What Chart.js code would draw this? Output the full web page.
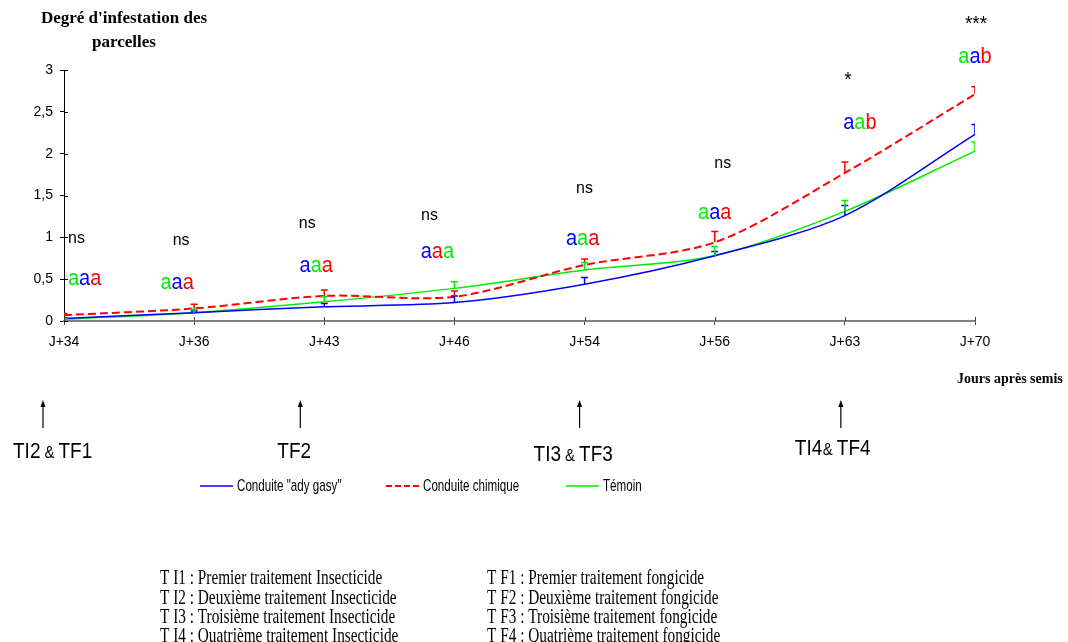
<!DOCTYPE html>
<html>
<head>
<meta charset="utf-8">
<script src="https://cdn.jsdelivr.net/npm/chart.js@4.4.0/dist/chart.umd.min.js"></script>
<style>
  html, body { margin: 0; padding: 0; background: #fff; }
  canvas { display: block; }
</style>
</head>
<body>
<canvas id="c" width="1068" height="642"></canvas>
<script>
// Sampling dates (days after sowing)
const categories = ['J+34', 'J+36', 'J+43', 'J+46', 'J+54', 'J+56', 'J+63', 'J+70'];

// Mean infestation degree per plot and upper error (standard error)
const adyGasy     = [0.03, 0.10, 0.17, 0.22, 0.44, 0.78, 1.26, 2.23];
const adyGasyErr  = [0.01, 0.02, 0.04, 0.08, 0.08, 0.05, 0.12, 0.12];
const chimique    = [0.07, 0.15, 0.30, 0.29, 0.67, 0.94, 1.77, 2.71];
const chimiqueErr = [0.02, 0.05, 0.07, 0.07, 0.07, 0.13, 0.13, 0.09];
const temoin      = [0.02, 0.10, 0.23, 0.39, 0.61, 0.78, 1.31, 2.03];
const temoinErr   = [0.01, 0.04, 0.06, 0.08, 0.09, 0.11, 0.13, 0.11];

// Y axis tick values
const yTicks = [0, 0.5, 1, 1.5, 2, 2.5, 3];

// Statistical significance and group letters per date
const significance = ['ns', 'ns', 'ns', 'ns', 'ns', 'ns', '*', '***'];
const groupLetters = ['aaa', 'aaa', 'aaa', 'aaa', 'aaa', 'aaa', 'aab', 'aab'];
// series owning each letter: g = témoin, b = ady gasy, r = chimique
const groupOwners  = ['gbr', 'gbr', 'bgr', 'brg', 'bgr', 'gbr', 'bgr', 'gbr'];

// Treatment application labels
const treatments = ['TI2 & TF1', 'TF2', 'TI3 & TF3', 'TI4& TF4'];

const legendLabels = ['Conduite "ady gasy"', 'Conduite chimique', 'Témoin'];

const notesInsecticide = [
  'T I1 : Premier traitement Insecticide',
  'T I2 : Deuxième traitement Insecticide',
  'T I3 : Troisième traitement Insecticide',
  'T I4 : Quatrième traitement Insecticide'
];
const notesFongicide = [
  'T F1 : Premier traitement fongicide',
  'T F2 : Deuxième traitement fongicide',
  'T F3 : Troisième traitement fongicide',
  'T F4 : Quatrième traitement fongicide'
];

const BLUE = '#0000ff', RED = '#ff0000', GREEN = '#00ee00';
const ownerColor = { g: GREEN, b: BLUE, r: RED };
const SANS = '"Liberation Sans", Arial, sans-serif';
const SERIF = '"Liberation Serif", "Times New Roman", serif';

function text(ctx, s, x, y, font, color, align, sx, sy) {
  ctx.save();
  ctx.font = font;
  ctx.fillStyle = color;
  ctx.textAlign = align || 'left';
  ctx.textBaseline = 'middle';
  ctx.translate(x, y);
  ctx.scale(sx || 1, sy || 1);
  ctx.fillText(s, 0, 0);
  ctx.restore();
}

function widthOf(ctx, s, font, sx) {
  ctx.save();
  ctx.font = font;
  const w = ctx.measureText(s).width * (sx || 1);
  ctx.restore();
  return w;
}

// Upper error bars with caps
const errorBars = {
  id: 'errorBars',
  afterDatasetsDraw(chart) {
    const { ctx, chartArea } = chart;
    const xs = chart.scales.x, ys = chart.scales.y;
    ctx.save();
    ctx.beginPath();
    ctx.rect(chartArea.left, chartArea.top - 40, chartArea.width, chartArea.height + 40);
    ctx.clip();
    chart.data.datasets.forEach(ds => {
      ctx.strokeStyle = ds.borderColor;
      ctx.lineWidth = 1.5;
      ctx.setLineDash([]);
      ds.data.forEach((v, i) => {
        const x = xs.getPixelForValue(i);
        const y0 = ys.getPixelForValue(v);
        const y1 = ys.getPixelForValue(v + ds.errors[i]);
        ctx.beginPath();
        ctx.moveTo(x, y0); ctx.lineTo(x, y1);
        ctx.moveTo(x - 3.5, y1); ctx.lineTo(x + 3.5, y1);
        ctx.stroke();
      });
    });
    ctx.restore();
  }
};

// Inner halves of the axis tick marks
const innerTicks = {
  id: 'innerTicks',
  afterDraw(chart) {
    const { ctx, chartArea } = chart;
    const xs = chart.scales.x, ys = chart.scales.y;
    ctx.save();
    ctx.lineWidth = 1;
    ctx.strokeStyle = '#000';
    ys.ticks.forEach(t => {
      const y = Math.round(ys.getPixelForValue(t.value)) + 0.5;
      ctx.beginPath(); ctx.moveTo(chartArea.left, y); ctx.lineTo(chartArea.left + 4, y); ctx.stroke();
    });
    ctx.strokeStyle = '#444';
    categories.forEach((c, i) => {
      const x = Math.round(xs.getPixelForValue(i)) + 0.5;
      ctx.beginPath(); ctx.moveTo(x, chartArea.bottom); ctx.lineTo(x, chartArea.bottom - 4); ctx.stroke();
    });
    ctx.restore();
  }
};

// Significance marks, group letters, titles, treatment arrows, legend and notes
const annotations = {
  id: 'annotations',
  afterDraw(chart, args, opts) {
    const { ctx } = chart;
    const xs = chart.scales.x, ys = chart.scales.y;

    significance.forEach((s, i) => {
      const x = xs.getPixelForValue(i) + opts.sigDx[i];
      const y = ys.getPixelForValue(opts.sigLevel[i]);
      const size = s.indexOf('*') >= 0 ? 19 : 16;
      text(ctx, s, x, y, size + 'px ' + SANS, '#000', i === 0 ? 'left' : 'center', 1, 1.08);
    });

    const letFont = '20px ' + SANS;
    groupLetters.forEach((word, i) => {
      let x = xs.getPixelForValue(i) + opts.letDx[i];
      if (i !== 0) x -= widthOf(ctx, word, letFont) / 2;
      const y = ys.getPixelForValue(opts.letLevel[i]);
      for (let k = 0; k < word.length; k++) {
        text(ctx, word[k], x, y, letFont, ownerColor[groupOwners[i][k]], 'left', 1, 1.08);
        x += widthOf(ctx, word[k], letFont);
      }
    });

    // axis titles
    text(ctx, "Degré d'infestation des", 124, 19, 'bold 17px ' + SERIF, '#000', 'center');
    text(ctx, 'parcelles', 124, 43, 'bold 17px ' + SERIF, '#000', 'center');
    text(ctx, 'Jours après semis', 957, 379, 'bold 14px ' + SERIF, '#000', 'left', 1, 1.1);

    // treatment arrows and labels
    const bigF = '20px ' + SANS, smallF = '15px ' + SANS;
    opts.treatIdx.forEach((idx, k) => {
      const ax = xs.getPixelForValue(idx) + opts.arrowDx[k];
      ctx.save();
      ctx.strokeStyle = '#000'; ctx.fillStyle = '#000'; ctx.lineWidth = 1.2;
      ctx.beginPath(); ctx.moveTo(ax, 428); ctx.lineTo(ax, 405); ctx.stroke();
      ctx.beginPath(); ctx.moveTo(ax, 400); ctx.lineTo(ax - 2.5, 407); ctx.lineTo(ax + 2.5, 407); ctx.closePath(); ctx.fill();
      ctx.restore();

      let x = ax + opts.labelDx[k];
      const y = opts.labelY[k];
      const label = treatments[k];
      const amp = label.indexOf('&');
      if (amp < 0) {
        text(ctx, label, x, y, bigF, '#000', 'left', 0.95, 1.12);
        return;
      }
      const left = label.slice(0, amp);
      const right = label.slice(amp + 1).trim();
      text(ctx, left.trimEnd(), x, y, bigF, '#000', 'left', 0.95, 1.12);
      x += widthOf(ctx, left.trimEnd(), bigF, 0.95) + (left.endsWith(' ') ? 4 : 0.5);
      text(ctx, '&', x, y + 1, smallF, '#000', 'left', 1, 1.12);
      x += widthOf(ctx, '&', smallF) + 4;
      text(ctx, right, x, y, bigF, '#000', 'left', 0.95, 1.12);
    });

    // legend
    const lg = [
      { x: 200, color: BLUE, dash: [], w: 1.5 },
      { x: 386, color: RED, dash: [6, 3], w: 2 },
      { x: 566, color: GREEN, dash: [], w: 1.5 }
    ];
    lg.forEach((l, k) => {
      ctx.save();
      ctx.strokeStyle = l.color; ctx.lineWidth = l.w; ctx.setLineDash(l.dash);
      ctx.beginPath(); ctx.moveTo(l.x, 486); ctx.lineTo(l.x + 33, 486); ctx.stroke();
      ctx.restore();
      text(ctx, legendLabels[k], l.x + 37, 486, '14px ' + SANS, '#000', 'left', 0.83, 1.2);
    });

    // notes
    const rows = [579, 599, 618, 637];
    rows.forEach((y, k) => {
      text(ctx, notesInsecticide[k], 160, y, '18px ' + SERIF, '#000', 'left', 0.85, 1.12);
      text(ctx, notesFongicide[k], 487, y, '18px ' + SERIF, '#000', 'left', 0.85, 1.12);
    });
  }
};

new Chart(document.getElementById('c'), {
  type: 'line',
  data: {
    labels: categories,
    datasets: [
      { label: legendLabels[0], data: adyGasy, errors: adyGasyErr, borderColor: BLUE, borderWidth: 1.5, tension: 0.3, pointRadius: 0, fill: false },
      { label: legendLabels[1], data: chimique, errors: chimiqueErr, borderColor: RED, borderWidth: 2, borderDash: [8, 4], tension: 0.3, pointRadius: 0, fill: false },
      { label: legendLabels[2], data: temoin, errors: temoinErr, borderColor: GREEN, borderWidth: 1.5, tension: 0.3, pointRadius: 0, fill: false }
    ]
  },
  options: {
    responsive: false,
    animation: false,
    devicePixelRatio: 1,
    layout: { padding: { top: 70, right: 93, left: 0, bottom: 0 } },
    plugins: {
      legend: { display: false },
      tooltip: { enabled: false },
      annotations: {
        sigLevel: [0.99, 0.96, 1.17, 1.27, 1.59, 1.88, 2.88, 3.55],
        sigDx:    [4, -13, -17, -25, 0, 8, 3, 1],
        letLevel: [0.50, 0.45, 0.66, 0.83, 0.98, 1.29, 2.37, 3.16],
        letDx:    [4, -17, -8, -17, -2, 0, 15, 0],
        treatIdx: [0, 2, 4, 6],
        arrowDx:  [-21, -24, -5, -4],
        labelDx:  [-30, -23, -46, -46],
        labelY:   [452, 452, 455, 449]
      }
    },
    scales: {
      x: {
        type: 'category',
        offset: false,
        afterFit(s) { s.height = 321; },
        border: { color: '#808080', width: 2 },
        grid: { drawOnChartArea: false, tickLength: 4, color: '#444' },
        ticks: { color: '#000', font: { family: SANS, size: 14 }, padding: 9, maxRotation: 0, autoSkip: false }
      },
      y: {
        min: 0, max: 3,
        afterFit(s) { s.width = 64; },
        afterBuildTicks(s) { s.ticks = yTicks.map(v => ({ value: v })); },
        border: { color: '#000', width: 1 },
        grid: { drawOnChartArea: false, tickLength: 4, color: '#000' },
        ticks: {
          color: '#000', font: { family: SANS, size: 14 }, padding: 7,
          callback: v => String(v).replace('.', ',')
        }
      }
    }
  },
  plugins: [errorBars, innerTicks, annotations]
});
</script>
</body>
</html>
